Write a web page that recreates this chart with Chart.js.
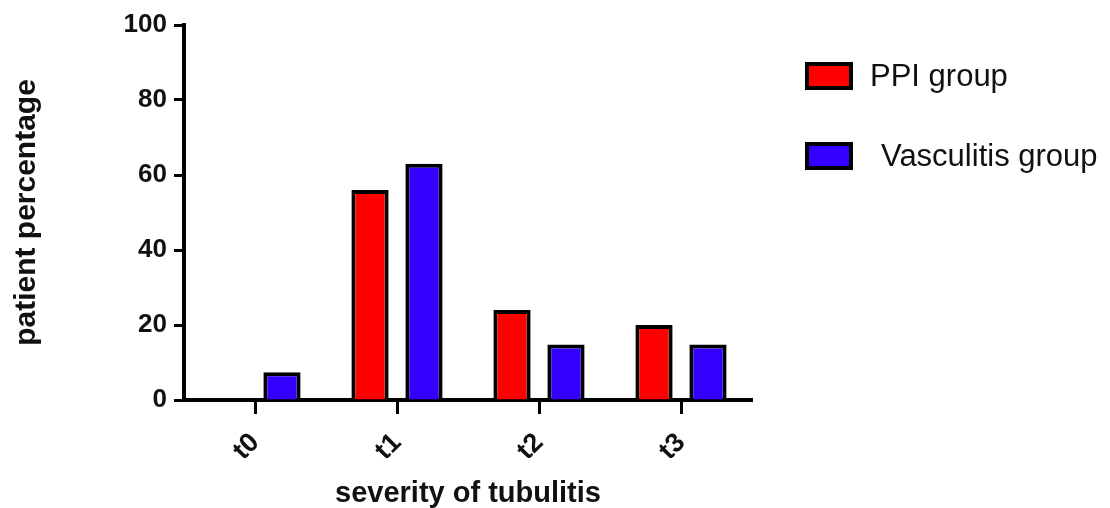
<!DOCTYPE html>
<html>
<head>
<meta charset="utf-8">
<script src="https://cdn.jsdelivr.net/npm/chart.js@4/dist/chart.umd.min.js"></script>
<style>
  html, body { margin: 0; padding: 0; background: #ffffff; }
  #wrap { width: 1110px; height: 508px; }
</style>
</head>
<body>
<div id="wrap"><canvas id="chart" width="1110" height="508"></canvas></div>
<script>
// Tubulitis severity grades and the share of patients in each group (%)
const categories = ['t0', 't1', 't2', 't3'];
const ppiGroup = [0, 56, 24, 20];
const vasculitisGroup = [7.4, 63, 14.8, 14.8];
const yTickValues = [0, 20, 40, 60, 80, 100];
const seriesNames = ['PPI group', 'Vasculitis group'];

const FONT = '"Liberation Sans", Arial, Helvetica, sans-serif';

// Legend drawn to the right of the plot: outlined swatch + label per dataset
const sideLegend = {
  id: 'sideLegend',
  afterDraw(chart, args, opts) {
    const ctx = chart.ctx;
    ctx.save();
    chart.data.datasets.forEach((ds, i) => {
      const top = opts.top + i * opts.step;
      const bw = ds.borderWidth;
      ctx.fillStyle = ds.backgroundColor;
      ctx.fillRect(opts.left, top, opts.boxWidth, opts.boxHeight);
      ctx.lineWidth = bw;
      ctx.strokeStyle = ds.borderColor;
      ctx.strokeRect(opts.left + bw / 2, top + bw / 2, opts.boxWidth - bw, opts.boxHeight - bw);
      ctx.fillStyle = '#111';
      ctx.font = opts.font;
      ctx.textBaseline = 'middle';
      ctx.textAlign = 'left';
      const indent = (opts.indent && opts.indent[i]) || 0;
      ctx.fillText(ds.label, opts.left + opts.boxWidth + opts.gap + indent, top + opts.boxHeight / 2 + 1);
    });
    ctx.restore();
  }
};

new Chart(document.getElementById('chart'), {
  type: 'bar',
  data: {
    labels: categories,
    datasets: [
      {
        label: seriesNames[0],
        data: ppiGroup,
        backgroundColor: '#ff0000',
        borderColor: '#000000',
        borderWidth: 4,
        categoryPercentage: 0.76,
        barPercentage: 0.69
      },
      {
        label: seriesNames[1],
        data: vasculitisGroup,
        backgroundColor: '#3300ff',
        borderColor: '#000000',
        borderWidth: 4,
        categoryPercentage: 0.76,
        barPercentage: 0.69
      }
    ]
  },
  options: {
    responsive: false,
    animation: false,
    devicePixelRatio: 1,
    layout: { padding: { left: 0, top: 25, right: 358, bottom: 0 } },
    plugins: {
      legend: { display: false },
      tooltip: { enabled: false },
      sideLegend: {
        left: 805, top: 62, step: 80,
        boxWidth: 48, boxHeight: 28, gap: 17,
        indent: [0, 11],
        font: '31px ' + FONT
      }
    },
    scales: {
      x: {
        offset: true,
        grid: {
          offset: false,
          drawOnChartArea: false,
          drawTicks: true,
          tickLength: 14,
          tickWidth: 3,
          tickColor: '#000',
          color: '#000'
        },
        border: { display: true, color: '#000', width: 4 },
        ticks: {
          color: '#111',
          font: { family: FONT, size: 27, weight: 'bold' },
          minRotation: 45,
          maxRotation: 45,
          padding: 13
        },
        title: {
          display: true,
          text: 'severity of tubulitis',
          color: '#111',
          font: { family: FONT, size: 29, weight: 'bold' },
          padding: { top: 0, bottom: -3 }
        },
        afterFit(scale) { scale.height = 108; }
      },
      y: {
        min: 0,
        max: 100,
        afterBuildTicks(scale) { scale.ticks = yTickValues.map(v => ({ value: v })); },
        grid: {
          drawOnChartArea: false,
          drawTicks: true,
          tickLength: 10,
          tickWidth: 3,
          tickColor: '#000',
          color: '#000'
        },
        border: { display: true, color: '#000', width: 4 },
        ticks: {
          color: '#111',
          font: { family: FONT, size: 26, weight: 'bold' },
          padding: 7
        },
        title: {
          display: true,
          text: 'patient percentage',
          color: '#111',
          font: { family: FONT, size: 30, weight: 'bold' },
          padding: { top: 9, bottom: 0 }
        },
        afterFit(scale) { scale.width = 184; }
      }
    }
  },
  plugins: [sideLegend]
});
</script>
</body>
</html>
